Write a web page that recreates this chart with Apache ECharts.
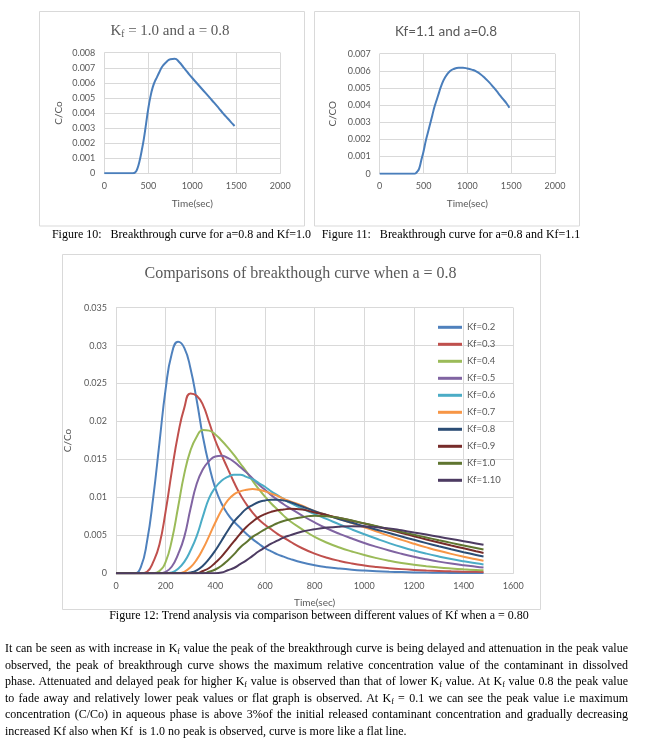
<!DOCTYPE html>
<html>
<head>
<meta charset="utf-8">
<script src="https://cdn.jsdelivr.net/npm/echarts@6/dist/echarts.min.js"></script>
<style>
  html, body { margin:0; padding:0; background:#ffffff; }
  #chart { position:absolute; left:0; top:0; width:648px; height:746px; }
  #para { position:absolute; left:5px; top:640px; width:623px; font-family:"Liberation Serif","Times New Roman",serif; font-size:12px; line-height:16.6px; color:#000; }
  #para div { text-align:justify; text-align-last:justify; height:16.6px; overflow:hidden; }
  #para div.last { text-align-last:left; }
  .sb { font-size:8px; vertical-align:-2px; line-height:0; }
</style>
</head>
<body>
<div id="chart"></div>
<div id="para">
  <div>It can be seen as with increase in K<span class="sb">f</span> value the peak of the breakthrough curve is being delayed and attenuation in the peak value is</div>
  <div>observed, the peak of breakthrough curve shows the maximum relative concentration value of the contaminant in dissolved aqueous</div>
  <div>phase. Attenuated and delayed peak for higher K<span class="sb">f</span> value is observed than that of lower K<span class="sb">f</span> value. At K<span class="sb">f</span> value 0.8 the peak value starts</div>
  <div>to fade away and relatively lower peak values or flat graph is observed. At K<span class="sb">f</span> = 0.1 we can see the peak value i.e maximum relative</div>
  <div>concentration (C/Co) in aqueous phase is above 3%of the initial released contaminant concentration and gradually decreasing with</div>
  <div class="last">increased Kf also when Kf&nbsp; is 1.0 no peak is observed, curve is more like a flat line.</div>
</div>
<script>
// ---- data ----
const time = [0,25,50,75,100,125,150,175,200,225,250,275,300,325,350,375,400,425,450,475,500,525,550,575,600,625,650,675,700,
              750,800,850,900,950,1000,1050,1100,1150,1200,1250,1300,1350,1400,1450,1480];

const kf02 = [0,0,0,0,0.0008,0.0042,0.0100,0.0172,0.0243,0.0290,0.0305,0.0297,0.0270,0.0228,0.0180,0.0142,0.0112,0.0092,0.0078,0.0068,0.0060,0.0052,0.0045,0.0039,0.0033,0.0029,0.0025,0.0022,0.0019,
              0.00142,0.00107,0.00081,0.00062,0.00047,0.00036,0.00028,0.00021,0.00016,0.00012,0.00009,0.00007,0.00005,0.00004,0.00003,0.00003];
const kf03 = [0,0,0,0,0,0.0002,0.0015,0.0038,0.0082,0.0135,0.0183,0.0218,0.0237,0.0234,0.0222,0.0199,0.0175,0.0156,0.0138,0.0120,0.0104,0.0091,0.0080,0.0071,0.0064,0.0058,0.0052,0.0047,0.0042,
              0.0033,0.0026,0.00205,0.00163,0.0013,0.00104,0.00084,0.00068,0.00055,0.00045,0.00037,0.00031,0.00026,0.00022,0.00019,0.00018];
const kf04 = [0,0,0,0,0,0,0,0.0003,0.0015,0.0044,0.0087,0.0131,0.0162,0.0180,0.0189,0.0188,0.0183,0.0175,0.0166,0.0156,0.0145,0.0134,0.0122,0.0111,0.0101,0.0092,0.0084,0.0076,0.0069,
              0.0058,0.0048,0.00403,0.0034,0.00287,0.0024,0.002,0.00166,0.00137,0.00113,0.00093,0.00077,0.00064,0.00053,0.00044,0.0004];
const kf05 = [0,0,0,0,0,0,0,0,0.0002,0.0009,0.0025,0.0048,0.0085,0.0118,0.0137,0.0148,0.0154,0.0155,0.0152,0.0147,0.0140,0.0133,0.0125,0.0117,0.0110,0.0103,0.0097,0.0091,0.0086,
              0.0076,0.0067,0.0059,0.0052,0.00458,0.0040,0.00348,0.0030,0.00257,0.00218,0.00184,0.00154,0.00128,0.00106,0.00087,0.00077];
const kf06 = [0,0,0,0,0,0,0,0,0,0.0001,0.0006,0.0015,0.0030,0.0049,0.0075,0.0099,0.0113,0.0122,0.0127,0.0130,0.0130,0.0127,0.0124,0.0119,0.0114,0.0108,0.0103,0.0098,0.0093,
              0.00853,0.0078,0.00713,0.00644,0.00578,0.00515,0.00455,0.00398,0.00346,0.0030,0.00259,0.00222,0.00188,0.00158,0.00131,0.00116];
const kf07 = [0,0,0,0,0,0,0,0,0,0,0,0.0002,0.0008,0.0018,0.0032,0.0049,0.0067,0.0083,0.0096,0.0104,0.0108,0.0110,0.0111,0.0110,0.0108,0.0105,0.0102,0.0098,0.0095,
              0.0089,0.0082,0.00768,0.00715,0.00662,0.00607,0.0055,0.00493,0.0044,0.0039,0.00342,0.00297,0.00256,0.00219,0.00185,0.00166];
const kf08 = [0,0,0,0,0,0,0,0,0,0,0,0,0.0001,0.0004,0.0010,0.0019,0.0030,0.0043,0.0056,0.0068,0.0077,0.0085,0.0090,0.0094,0.0096,0.0097,0.0097,0.0096,0.0094,
              0.0088,0.0082,0.00765,0.00713,0.00665,0.0062,0.00575,0.0053,0.00485,0.00441,0.00398,0.00356,0.00316,0.00278,0.00242,0.00222];
const kf09 = [0,0,0,0,0,0,0,0,0,0,0,0,0,0,0.0003,0.0007,0.0014,0.0022,0.0032,0.0042,0.0052,0.0061,0.0068,0.0074,0.0078,0.0081,0.0083,0.0084,0.0085,
              0.0084,0.0080,0.00765,0.00729,0.00693,0.00656,0.00616,0.00574,0.00531,0.00488,0.00446,0.00405,0.00366,0.00329,0.0029,0.00268];
const kf10 = [0,0,0,0,0,0,0,0,0,0,0,0,0,0,0,0.0002,0.0005,0.0010,0.0017,0.0025,0.0034,0.0041,0.0048,0.0053,0.0058,0.0062,0.0066,0.0069,0.0071,
              0.0074,0.0076,0.00752,0.0073,0.00695,0.00658,0.0062,0.00582,0.00545,0.00508,0.00472,0.00436,0.00401,0.00367,0.00334,0.00314];
const kf11 = [0,0,0,0,0,0,0,0,0,0,0,0,0,0,0,0,0,0.0001,0.0004,0.0007,0.0012,0.0017,0.0023,0.0029,0.0034,0.0039,0.0043,0.0047,0.0050,
              0.0055,0.0058,0.00602,0.00615,0.0062,0.00618,0.00608,0.00592,0.00566,0.00538,0.0051,0.00481,0.00452,0.00423,0.00393,0.00375];

// Figure 10 (Kf=1.0) and Figure 11 (Kf=1.1) single curves
const fig10 = [0,0,0,0,0,0,0,0,0,0,0,0,0,0,0.00005,0.0003,0.0008,0.0015,0.0023,0.0033,0.0043,0.0051,0.0057,0.0061,0.0064,0.0067,0.0070,0.0072,0.00735,
               0.00757,0.0076,0.00738,0.00703,0.00667,0.00632,0.00599,0.00566,0.00533,0.005,0.00467,0.00433,0.00398,0.00365,0.00333,0.00314];
const fig11 = [0,0,0,0,0,0,0,0,0,0,0,0,0,0,0,0,0,0.0001,0.0003,0.0008,0.0013,0.0019,0.0024,0.0029,0.0034,0.0039,0.0043,0.0047,0.0051,
               0.00565,0.00597,0.00612,0.00618,0.00618,0.00614,0.00607,0.00597,0.0058,0.00558,0.00533,0.00503,0.00472,0.0044,0.00408,0.00385];

const seriesNames = ['Kf=0.2','Kf=0.3','Kf=0.4','Kf=0.5','Kf=0.6','Kf=0.7','Kf=0.8','Kf=0.9','Kf=1.0','Kf=1.10'];
const seriesData = [kf02,kf03,kf04,kf05,kf06,kf07,kf08,kf09,kf10,kf11];
const seriesColors = ['#4F81BD','#C0504D','#9BBB59','#8064A2','#4BACC6','#F79646','#2C4D75','#772C2A','#5F7530','#4D3B62'];

// axis ticks
const topXTicks = [0,500,1000,1500,2000];
const fig10YTicks = [0,0.001,0.002,0.003,0.004,0.005,0.006,0.007,0.008];
const fig11YTicks = [0,0.001,0.002,0.003,0.004,0.005,0.006,0.007];
const mainXTicks = [0,200,400,600,800,1000,1200,1400,1600];
const mainYTicks = [0,0.005,0.01,0.015,0.02,0.025,0.03,0.035];

// ---- chart ----
const chart = echarts.init(document.getElementById('chart'), null, {renderer:'canvas'});
const labelFont = 'Lato';
const gray = '#595959';
const gridColor = '#D9D9D9';

function pairs(ys){ return time.map((t,i)=>[t, ys[i]]); }

function xAx(idx, ticks, gap){
  return {
    gridIndex: idx, type:'value', min: ticks[0], max: ticks[ticks.length-1],
    interval: ticks[1]-ticks[0],
    name:'Time(sec)', nameLocation:'middle', nameGap: gap,
    nameTextStyle:{fontFamily:labelFont, fontSize:10, color:gray},
    axisLine:{show:true, lineStyle:{color:gridColor}},
    axisTick:{show:false},
    axisLabel:{fontFamily:labelFont, fontSize:9, color:gray, margin:8, formatter: v => String(v)},
    splitLine:{show:true, lineStyle:{color:gridColor, width:1}}
  };
}
function yAx(idx, ticks, name, gap){
  return {
    gridIndex: idx, type:'value', min: ticks[0], max: ticks[ticks.length-1],
    interval: ticks[1]-ticks[0],
    name:name, nameLocation:'middle', nameGap: gap, nameRotate: 90,
    nameTextStyle:{fontFamily:labelFont, fontSize:10, color:gray},
    axisLine:{show:false}, axisTick:{show:false},
    axisLabel:{fontFamily:labelFont, fontSize:9, color:gray, margin:9,
      formatter: v => String(+(+v).toFixed(3))},
    splitLine:{show:true, lineStyle:{color:gridColor, width:1}}
  };
}

const lineCommon = {type:'line', symbol:'none', smooth:0.5, smoothConstraint:false};
const series = [
  Object.assign({name:'Fig10', xAxisIndex:0, yAxisIndex:0, data: pairs(fig10),
   lineStyle:{color:'#4A7EBB', width:2}, itemStyle:{color:'#4A7EBB'}}, lineCommon),
  Object.assign({name:'Fig11', xAxisIndex:1, yAxisIndex:1, data: pairs(fig11),
   lineStyle:{color:'#4A7EBB', width:2}, itemStyle:{color:'#4A7EBB'}}, lineCommon)
];
seriesNames.forEach((n,i)=>{
  series.push(Object.assign({name:n, xAxisIndex:2, yAxisIndex:2, data: pairs(seriesData[i]),
    lineStyle:{color:seriesColors[i], width:2}, itemStyle:{color:seriesColors[i]}, z: 2+i}, lineCommon));
});

const option = {
  animation:false,
  backgroundColor:'#ffffff',
  grid:[
    {left:104.3, top:52.7, width:176, height:120.6},
    {left:379.7, top:53.7, width:175.3, height:120},
    {left:116, top:307.7, width:397.3, height:265.6}
  ],
  xAxis:[ xAx(0, topXTicks, 25), xAx(1, topXTicks, 25), xAx(2, mainXTicks, 24) ],
  yAxis:[ yAx(0, fig10YTicks, 'C/Co', 41), yAx(1, fig11YTicks, 'C/CO', 42), yAx(2, mainYTicks, 'C/Co', 38) ],
  legend:{
    data: seriesNames, orient:'vertical', left:438, top:321.3, padding:0,
    itemWidth:24, itemHeight:3, itemGap:5, icon:'rect',
    textStyle:{fontFamily:labelFont, fontSize:9.5, color:gray, lineHeight:12}
  },
  series: series,
  graphic:[
    {type:'rect', shape:{x:39.5, y:11.5, width:265, height:214.5}, style:{fill:'none', stroke:'#D9D9D9', lineWidth:1}, silent:true},
    {type:'rect', shape:{x:314.5, y:11.5, width:265, height:214.5}, style:{fill:'none', stroke:'#D9D9D9', lineWidth:1}, silent:true},
    {type:'rect', shape:{x:62.5, y:254.5, width:478, height:355}, style:{fill:'none', stroke:'#D9D9D9', lineWidth:1}, silent:true},
    {type:'text', x:170, y:31, style:{
      text:'{a|K}{s|f}{a| = 1.0 and a = 0.8}', align:'center', verticalAlign:'middle',
      rich:{ a:{fontFamily:'Liberation Serif', fontSize:15, fill:gray, lineHeight:18},
             s:{fontFamily:'Liberation Serif', fontSize:9.5, fill:gray, padding:[7,0,0,0], lineHeight:18} }
    }},
    {type:'text', x:446, y:32, style:{text:'Kf=1.1 and a=0.8', align:'center', verticalAlign:'middle',
      font:'13.5px Lato', fill:gray}},
    {type:'text', x:300.5, y:273.5, style:{text:'Comparisons of breakthough curve when a = 0.8', align:'center', verticalAlign:'middle',
      font:'16px "Liberation Serif"', fill:gray}},
    {type:'text', x:181.5, y:235, style:{text:'Figure 10:   Breakthrough curve for a=0.8 and Kf=1.0', align:'center', verticalAlign:'middle',
      font:'12px "Liberation Serif"', fill:'#000'}},
    {type:'text', x:451, y:235, style:{text:'Figure 11:   Breakthrough curve for a=0.8 and Kf=1.1', align:'center', verticalAlign:'middle',
      font:'12px "Liberation Serif"', fill:'#000'}},
    {type:'text', x:319, y:615.5, style:{text:'Figure 12: Trend analysis via comparison between different values of Kf when a = 0.80', align:'center', verticalAlign:'middle',
      font:'12px "Liberation Serif"', fill:'#000'}}
  ]
};
chart.setOption(option);
</script>
</body>
</html>
